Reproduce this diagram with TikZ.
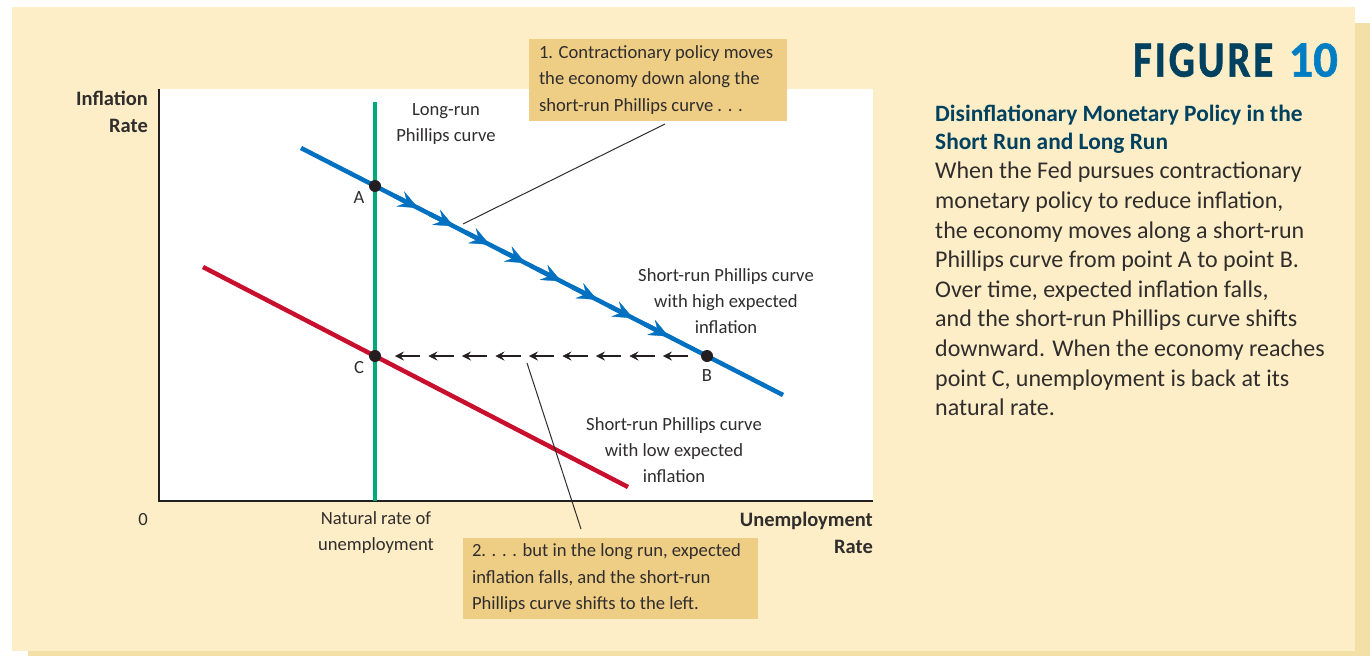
\documentclass[tikz,border=0pt]{standalone}
\usepackage{fontspec}
\setmainfont{Carlito}
\newfontfamily\figfont[FakeStretch=0.8,FakeBold=1.2]{Carlito}
\newfontfamily\numfont[FakeStretch=0.95,FakeBold=1.2]{Carlito}
\usetikzlibrary{arrows.meta,calc}
\definecolor{panel}{RGB}{253,238,199}
\definecolor{shadowc}{RGB}{242,224,166}
\definecolor{boxc}{RGB}{238,205,133}
\definecolor{bluec}{RGB}{0,112,192}
\definecolor{greenc}{RGB}{0,170,120}
\definecolor{redc}{RGB}{200,16,46}
\definecolor{txt}{RGB}{48,45,45}
\definecolor{dotc}{RGB}{35,31,32}
\definecolor{tealc}{RGB}{0,65,95}
\definecolor{figc}{RGB}{0,125,195}
\begin{document}
\begin{tikzpicture}[x=1pt,y=-1pt,
  lbl/.style={font=\fontsize{18.6}{26}\selectfont, text=txt, align=center, inner sep=0},
  axlbl/.style={font=\bfseries\fontsize{20.5}{27}\selectfont, text=txt, inner sep=0},
  calloutbox/.style={fill=boxc, inner sep=0},
  callouttext/.style={font=\fontsize{18.6}{26.5}\selectfont, text=txt, align=left, inner sep=0, anchor=west},
  dot/.style={circle, fill=dotc, minimum size=12pt, inner sep=0},
  curve/.style={line width=4.5pt},
  leader/.style={draw=txt, line width=1pt},
  dasharrow/.style={draw=dotc, line width=1.2pt, -{Stealth[length=9pt,width=9pt,inset=3.5pt,line width=0.4pt]}},
  bluearrow/.style={draw=bluec, line width=4.5pt, -{Stealth[length=20pt,width=17pt,inset=7.5pt,line width=0.3pt]}},
  bodytxt/.style={font=\fontsize{24}{29.6}\selectfont, text=txt, align=left, inner sep=0, anchor=north west}
]
\useasboundingbox (0,0) rectangle (1370,656);
\fill[white] (0,0) rectangle (1370,656);
\fill[shadowc] (28,23) rectangle (1370,656);
\fill[panel] (12,7) rectangle (1355,651);
% plot area
\fill[white] (159,89) rectangle (873,501);
\draw[dotc, line width=1.5pt] (159,89) -- (159,501) -- (873,501);

% curves
\coordinate (g1) at (375,102);
\coordinate (g2) at (375,501);
\coordinate (b1) at (301,148);
\coordinate (b2) at (783,395);
\coordinate (r1) at (203,267);
\coordinate (r2) at (628,487);
\draw[redc, curve] (r1) -- (r2);
\draw[greenc, curve] (g1) -- (g2);
\draw[bluec, curve] (b1) -- (b2);
\foreach \k in {0,...,7}{
  \pgfmathsetmacro\tipp{0.243+0.0743*\k}
  \pgfmathsetmacro\tailp{\tipp-0.05}
  \draw[bluearrow] ($(b1)!\tailp!(b2)$) -- ($(b1)!\tipp!(b2)$);
}

% points
\node[dot] (A) at (375,186) {};
\node[dot] (B) at (707,356) {};
\node[dot] (C) at (375,356) {};

% dashed arrows from B to C
\foreach \i in {0,...,8}{
  \draw[dasharrow] ($(C)+({20+33.5*\i+25},0)$) -- ($(C)+({20+33.5*\i},0)$);
}

% point labels
\node[lbl] (lA) at (359,198) {A};
\node[lbl] (lB) at (707,376) {B};
\node[lbl] (lC) at (359,368) {C};

% curve labels
\node[lbl] (lrpc) at (446,124) {Long-run\\Phillips curve};
\node[lbl] (high) at (726,301) {Short-run Phillips curve\\with high expected\\inflation};
\node[lbl] (low) at (674,450) {Short-run Phillips curve\\with low expected\\inflation};

% axis labels
\node[axlbl, align=right, anchor=east] (ylab) at (148,111.5) {Inflation\\Rate};
\node[axlbl, align=right, anchor=east] (xlab) at (873,532.5) {Unemployment\\Rate};
\node[lbl] (zero) at (143,520) {0};
\node[lbl] (nat) at (376,533) {Natural rate of\\unemployment};

% callouts
\node[calloutbox, minimum width=258pt, minimum height=82pt] (box1) at (658,80) {};
\node[callouttext] (t1) at ($(box1.west)+(10,0)$)
  {1. Contractionary policy moves\\the economy down along the\\short-run Phillips curve . . .};
\node[calloutbox, minimum width=295pt, minimum height=81pt] (box2) at (610.5,578.5) {};
\node[callouttext] (t2) at ($(box2.west)+(9,0)$)
  {2. . . . but in the long run, expected\\inflation falls, and the short-run\\Phillips curve shifts to the left.};
\coordinate (c1a) at (665,124);
\coordinate (c1b) at (463,224);
\draw[leader] (c1a) -- (c1b);
\coordinate (c2a) at (527,363);
\coordinate (c2b) at (581,529);
\draw[leader] (c2a) -- (c2b);

% figure title
\node[inner sep=0, anchor=north west, font=\figfont\bfseries\fontsize{51}{51}\selectfont, text=tealc] (fig) at (1133,43)
  {F\kern3pt I\kern3pt G\kern3pt U\kern3pt R\kern3pt E};
\node[inner sep=0, anchor=north east, font=\numfont\bfseries\fontsize{51}{51}\selectfont, text=figc] (fignum) at (1338,43)
  {10};

% description
\node[bodytxt, font=\bfseries\fontsize{23.4}{28}\selectfont, text=tealc] (dtitle) at (935,105)
  {Disinflationary Monetary Policy in the\\Short Run and Long Run};
\node[bodytxt] (dbody) at (935,162)
  {When the Fed pursues contractionary\\monetary policy to reduce inflation,\\the economy moves along a short-run\\Phillips curve from point A to point B.\\Over time, expected inflation falls,\\and the short-run Phillips curve shifts\\downward. When the economy reaches\\point C, unemployment is back at its\\natural rate.};
\end{tikzpicture}
\end{document}
